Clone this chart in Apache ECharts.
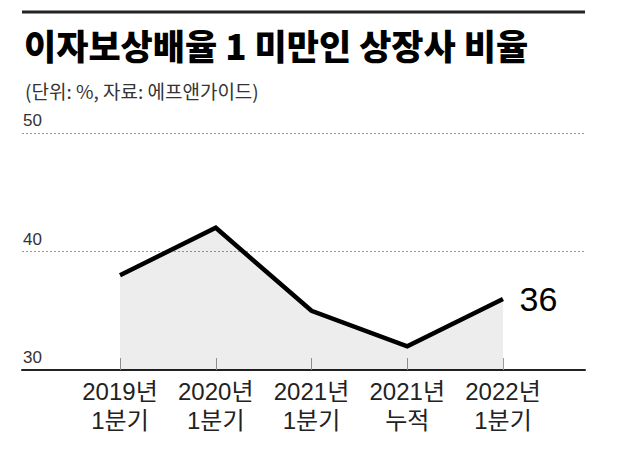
<!DOCTYPE html>
<html>
<head>
<meta charset="utf-8">
<script src="https://cdn.jsdelivr.net/npm/echarts@6/dist/echarts.min.js"></script>
<style>
html,body{margin:0;padding:0;background:#fff;}
#c{width:619px;height:463px;}
</style>
</head>
<body>
<div id="c"></div>
<script>
var titleText = '이자보상배율 1 미만인 상장사 비율';
var subText = '(단위: %, 자료: 에프앤가이드)';
var categories = ['2019년\n1분기', '2020년\n1분기', '2021년\n1분기', '2021년\n누적', '2022년\n1분기'];
var values = [38, 42, 35, 32, 36];
var yMin = 30, yMax = 50, yStep = 10;

var narrow = '"Liberation Sans Narrow", "Arial Narrow", "Liberation Sans", "Noto Sans CJK KR", sans-serif';
var chart = echarts.init(document.getElementById('c'), null, {renderer: 'svg'});
chart.setOption({
  backgroundColor: '#fff',
  animation: false,
  title: [
    {text: titleText, left: 19, top: 22,
     textStyle: {fontFamily: '"Noto Sans CJK KR", sans-serif', fontWeight: 900, fontSize: 35, color: '#000'}},
    {text: subText, left: 20, top: 76,
     textStyle: {fontFamily: '"Noto Sans CJK KR", sans-serif', fontWeight: 'normal', fontSize: 19, color: '#333'}}
  ],
  graphic: [
    {type: 'line', shape: {x1: 22, y1: 12, x2: 585, y2: 12}, style: {stroke: '#222', lineWidth: 3}}
  ],
  grid: [
    {left: 22, right: 34, top: 133, bottom: 93},
    {left: 120, right: 116, top: 133, bottom: 93}
  ],
  xAxis: [
    {type: 'value', gridIndex: 0, min: 0, max: 1,
     axisLine: {show: true, onZero: false, lineStyle: {color: '#222', width: 2}},
     axisTick: {show: false}, axisLabel: {show: false}, splitLine: {show: false}},
    {type: 'category', gridIndex: 1, data: categories, boundaryGap: false,
     axisLine: {show: false},
     axisTick: {show: true, inside: true, length: 12, interval: 0, lineStyle: {color: '#999', width: 1}},
     axisLabel: {interval: 0, margin: 7, fontFamily: narrow, fontSize: 24, lineHeight: 29, color: '#222'},
     splitLine: {show: false}}
  ],
  yAxis: [
    {type: 'value', gridIndex: 0, min: yMin, max: yMax, interval: yStep,
     axisLine: {show: false}, axisTick: {show: false},
     splitLine: {show: true, lineStyle: {color: '#999', type: [2, 2], width: 1}},
     axisLabel: {inside: true, margin: 1, verticalAlign: 'bottom', padding: [0, 0, 4, 0],
                 fontFamily: narrow, fontSize: 17, color: '#333'}},
    {type: 'value', gridIndex: 1, min: yMin, max: yMax, interval: yStep, show: false}
  ],
  series: [{
    type: 'line', xAxisIndex: 1, yAxisIndex: 1,
    data: values,
    symbol: 'circle', symbolSize: 1, showSymbol: true,
    itemStyle: {color: 'rgba(0,0,0,0)'},
    lineStyle: {color: '#000', width: 4.5, join: 'miter'},
    areaStyle: {color: 'rgba(0,0,0,0.1)', origin: 'start'},
    label: {show: true, position: 'right', distance: 16,
            fontFamily: narrow, fontSize: 34, color: '#000',
            formatter: function (p) { return p.dataIndex === values.length - 1 ? String(p.value) : ''; }}
  }]
});
</script>
</body>
</html>
